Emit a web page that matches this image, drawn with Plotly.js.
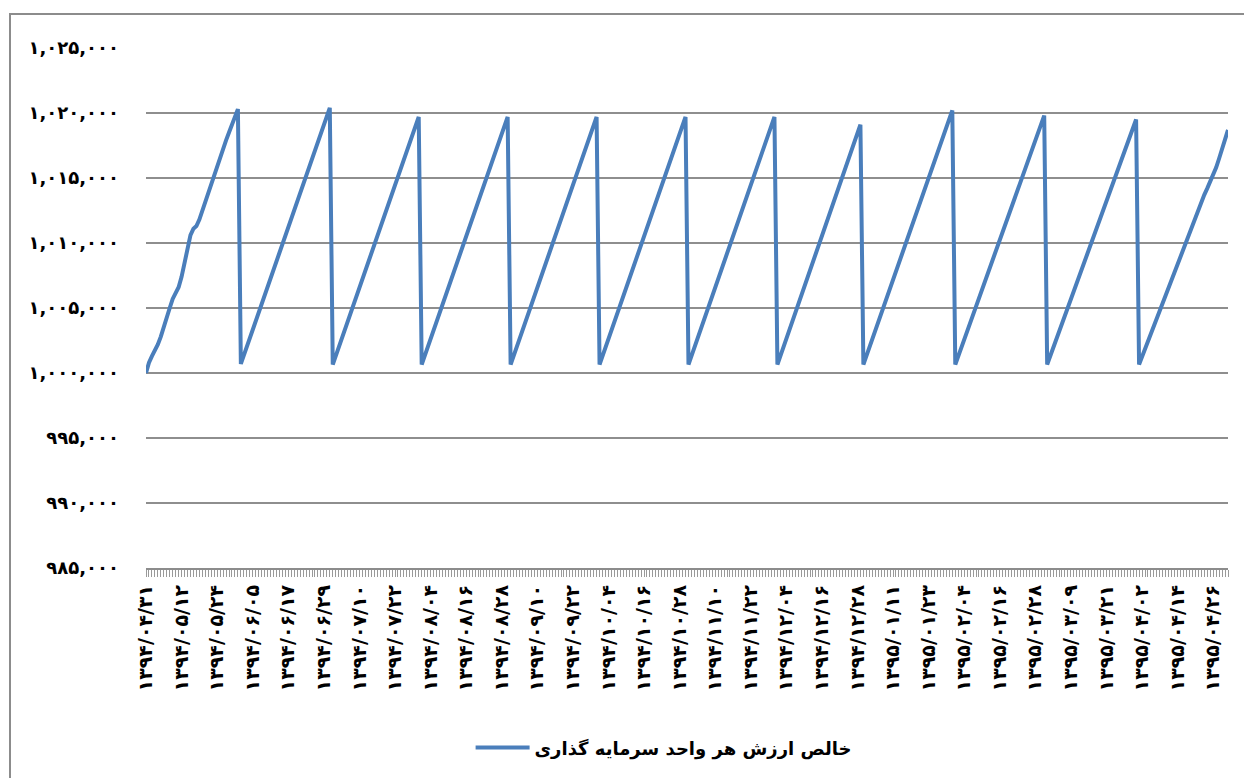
<!DOCTYPE html>
<html>
<head>
<meta charset="utf-8">
<script src="https://cdn.plot.ly/plotly-3.0.1.min.js"></script>
<style>
  html, body { margin: 0; padding: 0; background: #ffffff; }
  #wrap { position: relative; width: 1244px; height: 778px; overflow: hidden; background: #fff; }
  #frame { position: absolute; left: 9px; top: 13px; width: 1400px; height: 900px;
           border-top: 2px solid #8c8c8c; border-left: 2px solid #8c8c8c; }
  #chart { position: absolute; left: 0; top: 0; width: 1244px; height: 778px; }
</style>
</head>
<body>
<div id="wrap">
  <div id="frame"></div>
  <div id="chart"></div>
</div>
<script>
// ---- categories: daily dates (Jalali) ----
var dates = [
"1394/04/31",
"1394/05/01","1394/05/02","1394/05/03","1394/05/04","1394/05/05","1394/05/06","1394/05/07","1394/05/08","1394/05/09","1394/05/10","1394/05/11","1394/05/12","1394/05/13","1394/05/14","1394/05/15","1394/05/16","1394/05/17","1394/05/18","1394/05/19","1394/05/20","1394/05/21","1394/05/22","1394/05/23","1394/05/24","1394/05/25","1394/05/26","1394/05/27","1394/05/28","1394/05/29","1394/05/30","1394/05/31",
"1394/06/01","1394/06/02","1394/06/03","1394/06/04","1394/06/05","1394/06/06","1394/06/07","1394/06/08","1394/06/09","1394/06/10","1394/06/11","1394/06/12","1394/06/13","1394/06/14","1394/06/15","1394/06/16","1394/06/17","1394/06/18","1394/06/19","1394/06/20","1394/06/21","1394/06/22","1394/06/23","1394/06/24","1394/06/25","1394/06/26","1394/06/27","1394/06/28","1394/06/29","1394/06/30","1394/06/31",
"1394/07/01","1394/07/02","1394/07/03","1394/07/04","1394/07/05","1394/07/06","1394/07/07","1394/07/08","1394/07/09","1394/07/10","1394/07/11","1394/07/12","1394/07/13","1394/07/14","1394/07/15","1394/07/16","1394/07/17","1394/07/18","1394/07/19","1394/07/20","1394/07/21","1394/07/22","1394/07/23","1394/07/24","1394/07/25","1394/07/26","1394/07/27","1394/07/28","1394/07/29","1394/07/30",
"1394/08/01","1394/08/02","1394/08/03","1394/08/04","1394/08/05","1394/08/06","1394/08/07","1394/08/08","1394/08/09","1394/08/10","1394/08/11","1394/08/12","1394/08/13","1394/08/14","1394/08/15","1394/08/16","1394/08/17","1394/08/18","1394/08/19","1394/08/20","1394/08/21","1394/08/22","1394/08/23","1394/08/24","1394/08/25","1394/08/26","1394/08/27","1394/08/28","1394/08/29","1394/08/30",
"1394/09/01","1394/09/02","1394/09/03","1394/09/04","1394/09/05","1394/09/06","1394/09/07","1394/09/08","1394/09/09","1394/09/10","1394/09/11","1394/09/12","1394/09/13","1394/09/14","1394/09/15","1394/09/16","1394/09/17","1394/09/18","1394/09/19","1394/09/20","1394/09/21","1394/09/22","1394/09/23","1394/09/24","1394/09/25","1394/09/26","1394/09/27","1394/09/28","1394/09/29","1394/09/30",
"1394/10/01","1394/10/02","1394/10/03","1394/10/04","1394/10/05","1394/10/06","1394/10/07","1394/10/08","1394/10/09","1394/10/10","1394/10/11","1394/10/12","1394/10/13","1394/10/14","1394/10/15","1394/10/16","1394/10/17","1394/10/18","1394/10/19","1394/10/20","1394/10/21","1394/10/22","1394/10/23","1394/10/24","1394/10/25","1394/10/26","1394/10/27","1394/10/28","1394/10/29","1394/10/30",
"1394/11/01","1394/11/02","1394/11/03","1394/11/04","1394/11/05","1394/11/06","1394/11/07","1394/11/08","1394/11/09","1394/11/10","1394/11/11","1394/11/12","1394/11/13","1394/11/14","1394/11/15","1394/11/16","1394/11/17","1394/11/18","1394/11/19","1394/11/20","1394/11/21","1394/11/22","1394/11/23","1394/11/24","1394/11/25","1394/11/26","1394/11/27","1394/11/28","1394/11/29","1394/11/30",
"1394/12/01","1394/12/02","1394/12/03","1394/12/04","1394/12/05","1394/12/06","1394/12/07","1394/12/08","1394/12/09","1394/12/10","1394/12/11","1394/12/12","1394/12/13","1394/12/14","1394/12/15","1394/12/16","1394/12/17","1394/12/18","1394/12/19","1394/12/20","1394/12/21","1394/12/22","1394/12/23","1394/12/24","1394/12/25","1394/12/26","1394/12/27","1394/12/28","1394/12/29",
"1395/01/01","1395/01/02","1395/01/03","1395/01/04","1395/01/05","1395/01/06","1395/01/07","1395/01/08","1395/01/09","1395/01/10","1395/01/11","1395/01/12","1395/01/13","1395/01/14","1395/01/15","1395/01/16","1395/01/17","1395/01/18","1395/01/19","1395/01/20","1395/01/21","1395/01/22","1395/01/23","1395/01/24","1395/01/25","1395/01/26","1395/01/27","1395/01/28","1395/01/29","1395/01/30","1395/01/31",
"1395/02/01","1395/02/02","1395/02/03","1395/02/04","1395/02/05","1395/02/06","1395/02/07","1395/02/08","1395/02/09","1395/02/10","1395/02/11","1395/02/12","1395/02/13","1395/02/14","1395/02/15","1395/02/16","1395/02/17","1395/02/18","1395/02/19","1395/02/20","1395/02/21","1395/02/22","1395/02/23","1395/02/24","1395/02/25","1395/02/26","1395/02/27","1395/02/28","1395/02/29","1395/02/30","1395/02/31",
"1395/03/01","1395/03/02","1395/03/03","1395/03/04","1395/03/05","1395/03/06","1395/03/07","1395/03/08","1395/03/09","1395/03/10","1395/03/11","1395/03/12","1395/03/13","1395/03/14","1395/03/15","1395/03/16","1395/03/17","1395/03/18","1395/03/19","1395/03/20","1395/03/21","1395/03/22","1395/03/23","1395/03/24","1395/03/25","1395/03/26","1395/03/27","1395/03/28","1395/03/29","1395/03/30","1395/03/31",
"1395/04/01","1395/04/02","1395/04/03","1395/04/04","1395/04/05","1395/04/06","1395/04/07","1395/04/08","1395/04/09","1395/04/10","1395/04/11","1395/04/12","1395/04/13","1395/04/14","1395/04/15","1395/04/16","1395/04/17","1395/04/18","1395/04/19","1395/04/20","1395/04/21","1395/04/22","1395/04/23","1395/04/24","1395/04/25","1395/04/26","1395/04/27","1395/04/28","1395/04/29","1395/04/30","1395/04/31"
];

// ---- series values: NAV per unit, month by month ----
var nav_1394_04 = [1000000];
var nav_1394_05 = [1000800,1001300,1001700,1002200,1002800,1003600,1004300,1005000,1005700,1006100,1006600,1007400,1008500,1009600,1010600,1011100,1011300,1011800,1012500,1013200,1013900,1014600,1015300,1016000,1016600,1017300,1017900,1018500,1019100,1019700,1020300];
var nav_1394_06 = [1000700,1001360,1002010,1002670,1003330,1003980,1004640,1005300,1005950,1006610,1007270,1007920,1008580,1009240,1009890,1010550,1011210,1011860,1012520,1013180,1013830,1014490,1015150,1015800,1016460,1017120,1017770,1018430,1019090,1019740,1020400];
var nav_1394_07 = [1000650,1001310,1001960,1002620,1003280,1003930,1004590,1005250,1005900,1006560,1007220,1007870,1008530,1009190,1009840,1010500,1011160,1011810,1012470,1013130,1013780,1014440,1015100,1015750,1016410,1017070,1017720,1018380,1019040,1019700];
var nav_1394_08 = [1000650,1001310,1001960,1002620,1003280,1003930,1004590,1005250,1005900,1006560,1007220,1007870,1008530,1009190,1009840,1010500,1011160,1011810,1012470,1013130,1013780,1014440,1015100,1015750,1016410,1017070,1017720,1018380,1019040,1019700];
var nav_1394_09 = [1000650,1001310,1001960,1002620,1003280,1003930,1004590,1005250,1005900,1006560,1007220,1007870,1008530,1009190,1009840,1010500,1011160,1011810,1012470,1013130,1013780,1014440,1015100,1015750,1016410,1017070,1017720,1018380,1019040,1019700];
var nav_1394_10 = [1000650,1001310,1001960,1002620,1003280,1003930,1004590,1005250,1005900,1006560,1007220,1007870,1008530,1009190,1009840,1010500,1011160,1011810,1012470,1013130,1013780,1014440,1015100,1015750,1016410,1017070,1017720,1018380,1019040,1019700];
var nav_1394_11 = [1000650,1001310,1001960,1002620,1003280,1003930,1004590,1005250,1005900,1006560,1007220,1007870,1008530,1009190,1009840,1010500,1011160,1011810,1012470,1013130,1013780,1014440,1015100,1015750,1016410,1017070,1017720,1018380,1019040,1019700];
var nav_1394_12 = [1000650,1001310,1001970,1002630,1003290,1003940,1004600,1005260,1005920,1006580,1007240,1007900,1008560,1009220,1009880,1010530,1011190,1011850,1012510,1013170,1013830,1014490,1015150,1015810,1016470,1017120,1017780,1018440,1019100];
var nav_1395_01 = [1000650,1001300,1001950,1002610,1003260,1003910,1004560,1005210,1005870,1006520,1007170,1007820,1008470,1009130,1009780,1010430,1011080,1011730,1012390,1013040,1013690,1014340,1014990,1015650,1016300,1016950,1017600,1018250,1018910,1019560,1020200];
var nav_1395_02 = [1000650,1001290,1001930,1002570,1003200,1003840,1004480,1005120,1005760,1006400,1007030,1007670,1008310,1008950,1009590,1010230,1010860,1011500,1012140,1012780,1013420,1014060,1014690,1015330,1015970,1016610,1017250,1017890,1018520,1019160,1019800];
var nav_1395_03 = [1000650,1001280,1001910,1002540,1003160,1003790,1004420,1005050,1005680,1006310,1006930,1007560,1008190,1008820,1009450,1010080,1010700,1011330,1011960,1012590,1013220,1013850,1014470,1015100,1015730,1016360,1016990,1017620,1018240,1018870,1019500];
var nav_1395_04 = [1000650,1001250,1001850,1002450,1003060,1003660,1004260,1004860,1005460,1006060,1006660,1007260,1007860,1008460,1009060,1009660,1010260,1010860,1011460,1012060,1012660,1013200,1013700,1014200,1014700,1015200,1015800,1016500,1017200,1017900,1018700];

// ---- tick labels ----
var xTickDates = ["1394/04/31","1394/05/12","1394/05/24","1394/06/05","1394/06/17","1394/06/29","1394/07/10","1394/07/22","1394/08/04","1394/08/16","1394/08/28","1394/09/10","1394/09/22","1394/10/04","1394/10/16","1394/10/28","1394/11/10","1394/11/22","1394/12/04","1394/12/16","1394/12/28","1395/01/11","1395/01/23","1395/02/04","1395/02/16","1395/02/28","1395/03/09","1395/03/21","1395/04/02","1395/04/14","1395/04/26"];
var yTickVals = [985000,990000,995000,1000000,1005000,1010000,1015000,1020000,1025000];
var yTickText = ["۹۸۵,۰۰۰","۹۹۰,۰۰۰","۹۹۵,۰۰۰","۱,۰۰۰,۰۰۰","۱,۰۰۵,۰۰۰","۱,۰۱۰,۰۰۰","۱,۰۱۵,۰۰۰","۱,۰۲۰,۰۰۰","۱,۰۲۵,۰۰۰"];
var seriesName = "خالص ارزش هر واحد سرمایه گذاری";

var nav = [].concat(nav_1394_04, nav_1394_05, nav_1394_06, nav_1394_07, nav_1394_08, nav_1394_09,
                    nav_1394_10, nav_1394_11, nav_1394_12, nav_1395_01, nav_1395_02, nav_1395_03, nav_1395_04);

function toFa(s) {
  var fa = "۰۱۲۳۴۵۶۷۸۹";
  return String(s).replace(/[0-9]/g, function (d) { return fa[+d]; });
}

var FONT = "DejaVu Sans";
var lastIdx = dates.length - 1;

var traces = [
  {
    type: "scatter", mode: "lines", x: dates, y: nav, name: seriesName,
    xaxis: "x", yaxis: "y",
    line: { color: "#4A7EBB", width: 4, shape: "linear" },
    showlegend: true
  },
  {
    type: "scatter", mode: "lines", x: dates, y: nav,
    xaxis: "x2", yaxis: "y",
    line: { color: "rgba(0,0,0,0)", width: 0 },
    hoverinfo: "skip", showlegend: false
  }
];

var layout = {
  width: 1244, height: 778,
  margin: { l: 146, r: 16, t: 48, b: 210 },
  paper_bgcolor: "rgba(0,0,0,0)",
  plot_bgcolor: "rgba(0,0,0,0)",
  font: { family: FONT, size: 16, color: "#000" },
  showlegend: true,
  legend: {
    orientation: "h", x: 0.30, xanchor: "left", y: -0.346, yanchor: "middle",
    font: { family: FONT, size: 18, color: "#000", weight: "bold" },
    bgcolor: "rgba(0,0,0,0)", itemwidth: 54
  },
  xaxis: {
    type: "category", range: [0, lastIdx],
    tickmode: "array", tickvals: xTickDates, ticktext: xTickDates.map(toFa),
    tickangle: -90, ticks: "", showgrid: false, zeroline: false, showline: false,
    tickfont: { family: FONT, size: 19, color: "#000", weight: "bold" },
    ticklabelstandoff: 12
  },
  xaxis2: {
    type: "category", overlaying: "x", anchor: "y", side: "bottom",
    range: [0, lastIdx], tickmode: "linear", tick0: 0, dtick: 1,
    ticks: "outside", ticklen: 7, tickwidth: 1, tickcolor: "#9a9a9a",
    showticklabels: false, showgrid: false, zeroline: false,
    showline: true, linecolor: "#8c8c8c", linewidth: 2
  },
  yaxis: {
    range: [985000, 1025000], tickmode: "array", tickvals: yTickVals, ticktext: yTickText,
    showgrid: true, gridcolor: "#8e8e8e", gridwidth: 2, zeroline: false, showline: false,
    ticks: "", ticklabelstandoff: 26,
    tickfont: { family: FONT, size: 18, color: "#000", weight: "bold" }
  }
};

Plotly.newPlot("chart", traces, layout, { displayModeBar: false, staticPlot: true });
</script>
</body>
</html>
